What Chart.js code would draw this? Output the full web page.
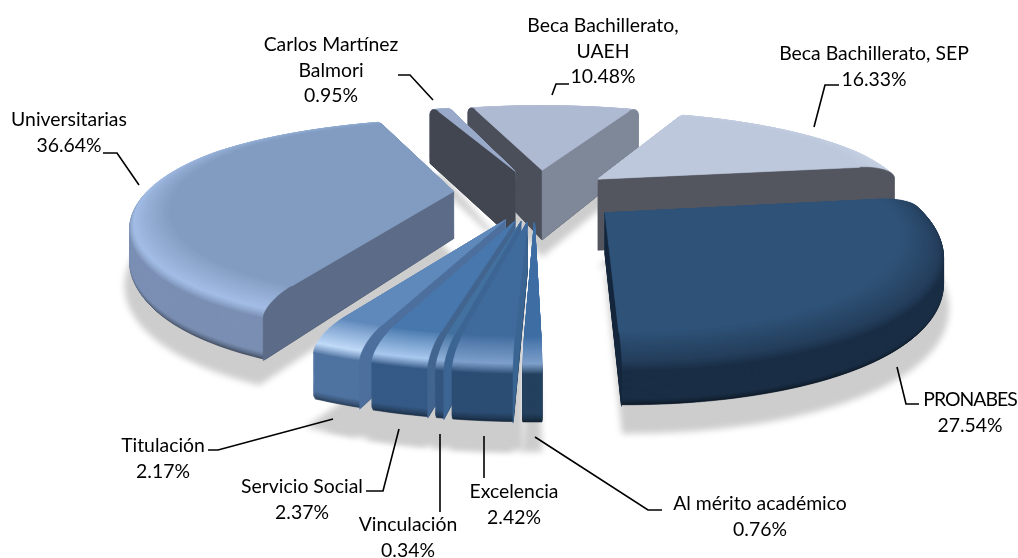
<!DOCTYPE html>
<html><head><meta charset="utf-8">
<style>html,body{margin:0;padding:0;background:#fff}canvas{display:block}</style>
<script src="https://cdn.jsdelivr.net/npm/chart.js@4"></script>
</head><body><canvas id="c" width="1018" height="558"></canvas>
<script>
const categories = ["Beca Bachillerato, UAEH","Beca Bachillerato, SEP","PRONABES","Al mérito académico","Excelencia","Vinculación","Servicio Social","Titulación","Universitarias","Carlos Martínez Balmori"];
const shares = [10.48,16.33,27.54,0.76,2.42,0.34,2.37,2.17,36.64,0.95];
const explodePercent = [25,25,27.5,22,22,22,22,22,26.5,25];

// appearance of each slice, same order as categories
const topColor  = ["#aeb9d2","#bdc8dc","#2f5378","#3d6da3","#3f6a9c","#42709f","#4777ac","#5f88bb","#829cc1","#98a9c9"];
const wallColor = ["#7f8898","#8a93a5","#1a2e45","#24415f","#2c4d73","#33557f","#365a87","#4f73a1","#7a8fb3","#5e6a82"];
const faceColor = ["#4b4f5a","#53565f","#14263c","#2f5a8c","#3a6492","#3d6593","#41658f","#4c6f9d","#5c6b87","#414651"];
const endFace   = ["#7f8898","#53565f","#14263c","#2f5a8c","#3a6492","#3d6593","#41658f","#4c6f9d","#5c6b87","#414651"];
const glow      = ["#b8c3da","#c8d2e4","#243e5c","#7d9fcb","#7d9fcb","#8fb0d8","#a8c8ee","#c0daf8","#a3bde6","#a8b8d4"];
const depth     = [0.225,0.225,0.12,0.15,0.15,0.15,0.15,0.15,0.145,0.225];
const nearPush  = [0,0,0,1,1,1,1,1,0,0];

const view = {cx:537, cy:194, S:326, A:100, b:0.22, rim:0.88, bevel:0.04};

const labelLines = [["Beca Bachillerato,","UAEH"],["Beca Bachillerato, SEP"],["PRONABES"],["Al mérito académico"],["Excelencia"],["Vinculación"],["Servicio Social"],["Titulación"],["Universitarias"],["Carlos Martínez","Balmori"]];
const labelAt = [[603,26],[874,54],[970,400],[760,504],[514,492],[408,525],[302,487],[163,446],[69,120],[331,45]];
const leaders = [
 [[552,95],[556,84],[569,84]],[[814,127],[825,85],[839,85]],[[897,367],[906,404],[919,404]],
 [[535,437],[648,510],[662,510]],[[484,436],[484,478]],[[440,434],[440,512]],
 [[399,429],[383,491],[366,491]],[[333,419],[218,450],[208,450]],[[139,185],[117,153],[103,153]],[[433,100],[410,75],[398,75]]];

let topLevel = 0, push = 0;
// the reference's projection is not a pure perspective: angles drift a little by bearing
function warp(a,near){
  let t=((a*180/Math.PI+90)%360+360)%360, d=0;
  if(near&&t>=180&&t<=212) d=2+(t-184)*1.9/28;
  else if(t>212&&t<270) d=3.9*(270-t)/58;
  else if(t>=335) d=1.6*Math.min(1,(t-335)/5);
  else if(t<=25) d=1.6-t/25;
  else if(t<60) d=0.6*(60-t)/35;
  return a-d*Math.PI/180;
}
function project(u,v,h){
  const w=1-view.b*v;
  const m=1-0.04*Math.exp(-Math.pow((v-0.5)/0.8,2));
  const dy=push*(5-9*(v-0.22))+5*Math.max(0,(-v-0.5)/0.75);
  return [view.cx+view.S*m*u/w, view.cy+dy+(view.A*v-view.S*(h-topLevel))/w];
}
function sectorPath(ctx,g,r,h){
  const a=project(g.ox,g.oy,h);
  ctx.beginPath();ctx.moveTo(a[0],a[1]);
  const n=Math.max(3,Math.ceil((g.a1-g.a0)/0.02));
  for(let i=0;i<=n;i++){
    const t=g.a0+(g.a1-g.a0)*i/n;
    const q=project(g.ox+r*Math.cos(t),g.oy+r*Math.sin(t),h);
    ctx.lineTo(q[0],q[1]);
  }
  ctx.closePath();
}
function layer(ctx,g,r,h,c){sectorPath(ctx,g,r,h);ctx.fillStyle=c;ctx.strokeStyle=c;ctx.lineWidth=.6;ctx.fill();ctx.stroke();}
function face(ctx,g,ang,H,c,wedgeMid){
  const rb=view.rim, bh=view.bevel;
  const A=project(g.ox,g.oy,H);
  const E=project(g.ox+rb*Math.cos(ang),g.oy+rb*Math.sin(ang),H);
  const W=project(g.ox+rb*Math.cos(wedgeMid),g.oy+rb*Math.sin(wedgeMid),H);
  const ex=E[0]-A[0],ey=E[1]-A[1];
  const c1=ex*1-ey*0, c2=ex*(W[1]-A[1])-ey*(W[0]-A[0]);
  if(c1*c2>=0) return;
  ctx.beginPath();
  let p=project(g.ox,g.oy,0);ctx.moveTo(p[0],p[1]);
  p=project(g.ox+Math.cos(ang),g.oy+Math.sin(ang),0);ctx.lineTo(p[0],p[1]);
  for(let i=0;i<=12;i++){
    const f=i/12*Math.PI/2, r=rb+(1-rb)*Math.cos(f), z=H-bh+bh*Math.sin(f);
    p=project(g.ox+r*Math.cos(ang),g.oy+r*Math.sin(ang),z);ctx.lineTo(p[0],p[1]);
  }
  ctx.lineTo(A[0],A[1]);ctx.closePath();
  ctx.fillStyle=c;ctx.strokeStyle=c;ctx.lineWidth=.6;ctx.fill();ctx.stroke();
}
function drawSolid(ctx,g,i){
  const H=depth[i], rb=view.rim, bh=view.bevel, wall=wallColor[i];
  topLevel=H; push=nearPush[i];
  const zTop=H-bh, steps=Math.ceil(zTop*view.S/0.8);
  for(let k=0;k<=steps;k++){
    const z=zTop*k/steps, low=z/(zTop*0.2);
    const r=z<zTop*0.1?0.992+0.008*(z/(zTop*0.1)):1;
    const c=low<1?mix2(darker(wall),wall,low):wall;
    layer(ctx,g,r,z,c);
  }
  const nb=30;
  for(let k=0;k<=nb;k++){
    const t=k/nb,f=t*Math.PI/2,r=rb+(1-rb)*Math.cos(f),z=zTop+bh*Math.sin(f);
    let c;
    if(t<.3)c=mix2(wall,glow[i],t/.3);
    else c=mix2(glow[i],topColor[i],(t-.3)/.7);
    layer(ctx,g,r,z,c);
  }
  const mid=(g.a0+g.a1)/2;
  face(ctx,g,g.a0,H,faceColor[i],mid);
  face(ctx,g,g.a1,H,endFace[i],mid);
  layer(ctx,g,rb,H,topColor[i]);
}
function rgbOf(c){const m=c.match(/\d+/g);return c[0]==="#"?[1,3,5].map(i=>parseInt(c.substr(i,2),16)):m.map(Number);}
function mix2(a,b,t){const A=rgbOf(a),B=rgbOf(b);return `rgb(${A.map((v,i)=>Math.round(v+(B[i]-v)*t)).join(",")})`;}
function darker(c){return mix2(c,"#000000",.45);}

const pie3d={
  id:"pie3d",
  beforeDatasetDraw(chart,args){
    const ctx=chart.ctx, arcs=args.meta.data;
    const geo=arcs.map((el,i)=>{
      const mid=(el.startAngle+el.endAngle)/2, ex=el.options.offset/100, near=!!nearPush[i]||i===8;
      const a0=warp(el.startAngle,near), a1=a0+(warp(el.endAngle,near)-a0+Math.PI*4)%(Math.PI*2);
      return {i,a0,a1,ox:ex*Math.cos(mid),oy:ex*Math.sin(mid),d:Math.sin(mid)};
    });
    ctx.save();
    ctx.filter="blur(3px)";
    geo.forEach(g=>{
      topLevel=depth[g.i]; push=nearPush[g.i];
      sectorPath(ctx,g,push?1.03:1.015,push?-0.05:-0.055);
      ctx.fillStyle="#cdcdcd";ctx.fill();
    });
    // the narrow front slices share one continuous shadow
    const fan=geo.filter(g=>nearPush[g.i]);
    topLevel=depth[fan[0].i]; push=1;
    sectorPath(ctx,{a0:Math.min(...fan.map(g=>g.a0)),a1:Math.max(...fan.map(g=>g.a1)),
      ox:fan.reduce((s,g)=>s+g.ox,0)/fan.length,oy:fan.reduce((s,g)=>s+g.oy,0)/fan.length},1.03,-0.05);
    ctx.fillStyle="#cdcdcd";ctx.fill();
    ctx.filter="none";
    [...geo].sort((p,q)=>p.d-q.d).forEach(g=>drawSolid(ctx,g,g.i));
    ctx.restore();
    return false;
  },
  afterDraw(chart){
    const ctx=chart.ctx;
    ctx.save();
    ctx.strokeStyle="#000";ctx.lineWidth=1.6;ctx.lineJoin="miter";
    leaders.forEach(l=>{ctx.beginPath();l.forEach((p,k)=>k?ctx.lineTo(p[0],p[1]):ctx.moveTo(p[0],p[1]));ctx.stroke();});
    ctx.fillStyle="#000";ctx.font='19.4px Lato, "Noto Sans", sans-serif';ctx.textAlign="center";ctx.textBaseline="middle";
    labelLines.forEach((ls,i)=>{
      const [x,y]=labelAt[i];
      const lines=[...ls,shares[i].toFixed(2)+"%"];
      lines.forEach((t,k)=>{
        ctx.letterSpacing=(t===t.toUpperCase()&&t.length>7&&!t.includes("%"))?"-1px":"0px";
        ctx.fillText(t,x,y+k*25.3);
      });
    });
    ctx.restore();
  }
};

new Chart(document.getElementById("c"),{
  type:"pie",
  data:{labels:categories,datasets:[{data:shares,backgroundColor:topColor,offset:explodePercent,borderWidth:0}]},
  options:{responsive:false,animation:false,rotation:-15,
    plugins:{legend:{display:false},tooltip:{enabled:false}}},
  plugins:[pie3d]
});
</script></body></html>
